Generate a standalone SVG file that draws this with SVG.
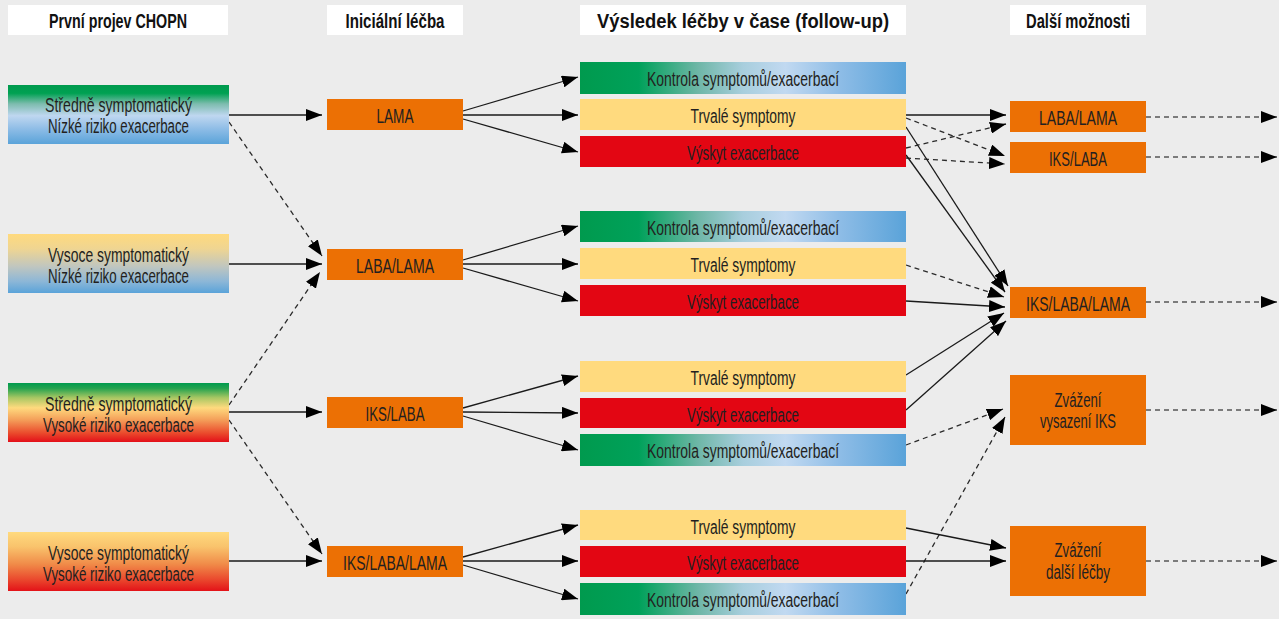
<svg xmlns="http://www.w3.org/2000/svg" width="1279" height="619" viewBox="0 0 1279 619">
<style>
.t{font-family:"Liberation Sans",Arial,sans-serif;font-size:20px;fill:#231f20;text-anchor:middle}
.h{font-family:"Liberation Sans",Arial,sans-serif;font-size:20px;font-weight:bold;fill:#111;text-anchor:middle}
.hb{fill:#fff}
.or{fill:#ec7004}
.ye{fill:#ffda7e}
.re{fill:#e30613}
.kon{fill:url(#gKon)}
.s{stroke:#1a1a1a;stroke-width:1.3;fill:none;marker-end:url(#ah)}
.d{stroke:#2a2a2a;stroke-width:1.3;fill:none;stroke-dasharray:5 4;marker-end:url(#ah)}
.dg{stroke:#555;stroke-width:1.4;fill:none;stroke-dasharray:5 4;marker-end:url(#ah)}
</style>
<defs>
<marker id="ah" viewBox="0 0 16 12" refX="16" refY="6" markerWidth="16" markerHeight="12" markerUnits="userSpaceOnUse" orient="auto">
<path d="M0,0 L16,6 L0,12 z" fill="#000"/>
</marker>
<linearGradient id="gKon" x1="0" y1="0" x2="1" y2="0">
<stop offset="0" stop-color="#009a4e"/>
<stop offset="0.18" stop-color="#00a15a"/>
<stop offset="0.36" stop-color="#6db6a6"/>
<stop offset="0.5" stop-color="#a8cedd"/>
<stop offset="0.63" stop-color="#c1d9f1"/>
<stop offset="0.8" stop-color="#8dbce6"/>
<stop offset="1" stop-color="#5aa3d9"/>
</linearGradient>
<linearGradient id="gB1" x1="0" y1="0" x2="0" y2="1">
<stop offset="0" stop-color="#009a4e"/>
<stop offset="0.14" stop-color="#00a152"/>
<stop offset="0.32" stop-color="#7dbcae"/>
<stop offset="0.52" stop-color="#bfd7f0"/>
<stop offset="0.75" stop-color="#8dbce6"/>
<stop offset="1" stop-color="#5aa3d9"/>
</linearGradient>
<linearGradient id="gB2" x1="0" y1="0" x2="0" y2="1">
<stop offset="0" stop-color="#ffda7e"/>
<stop offset="0.25" stop-color="#efd592"/>
<stop offset="0.55" stop-color="#c0c6bf"/>
<stop offset="0.8" stop-color="#8db7d7"/>
<stop offset="1" stop-color="#5aa3d9"/>
</linearGradient>
<linearGradient id="gB3" x1="0" y1="0" x2="0" y2="1">
<stop offset="0" stop-color="#009a4e"/>
<stop offset="0.09" stop-color="#23a24e"/>
<stop offset="0.25" stop-color="#a8c763"/>
<stop offset="0.42" stop-color="#ffda7e"/>
<stop offset="0.62" stop-color="#f4a05a"/>
<stop offset="0.85" stop-color="#ea4a2c"/>
<stop offset="1" stop-color="#e30f19"/>
</linearGradient>
<linearGradient id="gB4" x1="0" y1="0" x2="0" y2="1">
<stop offset="0" stop-color="#ffda7e"/>
<stop offset="0.25" stop-color="#f9c36c"/>
<stop offset="0.55" stop-color="#f08a48"/>
<stop offset="0.8" stop-color="#ea4a2e"/>
<stop offset="1" stop-color="#e31218"/>
</linearGradient>
</defs>
<rect width="1279" height="619" fill="#ececec"/>

<g id="headers">
<rect class="hb" x="8" y="5" width="220" height="30"/>
<text class="h" x="118" y="28" textLength="138" lengthAdjust="spacingAndGlyphs">První projev CHOPN</text>
<rect class="hb" x="327" y="5" width="136" height="30"/>
<text class="h" x="395" y="28" textLength="99" lengthAdjust="spacingAndGlyphs">Iniciální léčba</text>
<rect class="hb" x="580" y="5" width="326" height="30"/>
<text class="h" x="743" y="28" textLength="292" lengthAdjust="spacingAndGlyphs">Výsledek léčby v čase (follow-up)</text>
<rect class="hb" x="1010" y="5" width="136" height="30"/>
<text class="h" x="1078" y="28" textLength="104" lengthAdjust="spacingAndGlyphs">Další možnosti</text>
</g>

<g id="connectors">
<line class="s" x1="229" y1="115" x2="322" y2="115"/>
<line class="d" x1="229" y1="122" x2="322" y2="256"/>
<line class="s" x1="229" y1="264" x2="322" y2="264"/>
<line class="d" x1="229" y1="405" x2="320" y2="272"/>
<line class="s" x1="229" y1="412" x2="322" y2="412"/>
<line class="d" x1="229" y1="420" x2="322" y2="554"/>
<line class="s" x1="229" y1="561" x2="322" y2="561"/>
<line class="s" x1="463" y1="111" x2="578" y2="77"/>
<line class="s" x1="463" y1="115" x2="578" y2="115"/>
<line class="s" x1="463" y1="119" x2="578" y2="152"/>
<line class="s" x1="463" y1="260" x2="578" y2="226"/>
<line class="s" x1="463" y1="264" x2="578" y2="264"/>
<line class="s" x1="463" y1="268" x2="578" y2="301"/>
<line class="s" x1="463" y1="408" x2="578" y2="376"/>
<line class="s" x1="463" y1="412" x2="578" y2="413"/>
<line class="s" x1="463" y1="416" x2="578" y2="450"/>
<line class="s" x1="463" y1="557" x2="578" y2="525"/>
<line class="s" x1="463" y1="561" x2="578" y2="561"/>
<line class="s" x1="463" y1="565" x2="578" y2="599"/>
<line class="s" x1="906" y1="115" x2="1006" y2="115"/>
<line class="d" x1="906" y1="118" x2="1005" y2="156"/>
<line class="d" x1="906" y1="148" x2="1006" y2="124"/>
<line class="d" x1="906" y1="158" x2="1005" y2="164"/>
<line class="s" x1="906" y1="127" x2="1008" y2="286"/>
<line class="s" x1="906" y1="155" x2="1005" y2="292"/>
<line class="d" x1="906" y1="265" x2="1004" y2="297"/>
<line class="s" x1="906" y1="301" x2="1005" y2="307"/>
<line class="s" x1="906" y1="375" x2="1004" y2="313"/>
<line class="s" x1="906" y1="410" x2="1006" y2="321"/>
<line class="d" x1="906" y1="445" x2="1003" y2="409"/>
<line class="d" x1="906" y1="594" x2="1005" y2="417"/>
<line class="s" x1="906" y1="528" x2="1006" y2="548"/>
<line class="s" x1="906" y1="561" x2="1006" y2="561"/>
<line class="dg" x1="1146" y1="117" x2="1277" y2="117"/>
<line class="dg" x1="1146" y1="157" x2="1277" y2="157"/>
<line class="dg" x1="1146" y1="302" x2="1277" y2="302"/>
<line class="dg" x1="1146" y1="410" x2="1277" y2="410"/>
<line class="dg" x1="1146" y1="561" x2="1277" y2="561"/>
</g>

<g id="first1">
<rect x="8" y="85" width="221" height="59" fill="url(#gB1)"/>
<text class="t" x="118.5" y="112" textLength="147" lengthAdjust="spacingAndGlyphs">Středně symptomatický</text>
<text class="t" x="118.5" y="133" textLength="141" lengthAdjust="spacingAndGlyphs">Nízké riziko exacerbace</text>
</g>
<g id="first2">
<rect x="8" y="234" width="221" height="59" fill="url(#gB2)"/>
<text class="t" x="118.5" y="261.5" textLength="141" lengthAdjust="spacingAndGlyphs">Vysoce symptomatický</text>
<text class="t" x="118.5" y="282.5" textLength="141" lengthAdjust="spacingAndGlyphs">Nízké riziko exacerbace</text>
</g>
<g id="first3">
<rect x="8" y="383" width="221" height="59" fill="url(#gB3)"/>
<text class="t" x="118.5" y="410.5" textLength="147" lengthAdjust="spacingAndGlyphs">Středně symptomatický</text>
<text class="t" x="118.5" y="431.5" textLength="151" lengthAdjust="spacingAndGlyphs">Vysoké riziko exacerbace</text>
</g>
<g id="first4">
<rect x="8" y="532" width="221" height="59" fill="url(#gB4)"/>
<text class="t" x="118.5" y="559.5" textLength="141" lengthAdjust="spacingAndGlyphs">Vysoce symptomatický</text>
<text class="t" x="118.5" y="580.5" textLength="151" lengthAdjust="spacingAndGlyphs">Vysoké riziko exacerbace</text>
</g>

<g id="init1">
<rect class="or" x="327" y="99" width="136" height="31"/>
<text class="t" x="395" y="123" textLength="37" lengthAdjust="spacingAndGlyphs">LAMA</text>
</g>
<g id="init2">
<rect class="or" x="327" y="249" width="136" height="31"/>
<text class="t" x="395" y="273" textLength="78" lengthAdjust="spacingAndGlyphs">LABA/LAMA</text>
</g>
<g id="init3">
<rect class="or" x="327" y="397" width="136" height="31"/>
<text class="t" x="395" y="421" textLength="59" lengthAdjust="spacingAndGlyphs">IKS/LABA</text>
</g>
<g id="init4">
<rect class="or" x="327" y="546" width="136" height="31"/>
<text class="t" x="395" y="570" textLength="104" lengthAdjust="spacingAndGlyphs">IKS/LABA/LAMA</text>
</g>

<g id="out1a"><rect class="kon" x="580" y="62" width="326" height="32"/><text class="t" x="743" y="86" textLength="192" lengthAdjust="spacingAndGlyphs">Kontrola symptomů/exacerbací</text></g>
<g id="out1b"><rect class="ye" x="580" y="99" width="326" height="31"/><text class="t" x="743" y="123" textLength="105" lengthAdjust="spacingAndGlyphs">Trvalé symptomy</text></g>
<g id="out1c"><rect class="re" x="580" y="136" width="326" height="31"/><text class="t" x="743" y="160" textLength="112" lengthAdjust="spacingAndGlyphs">Výskyt exacerbace</text></g>

<g id="out2a"><rect class="kon" x="580" y="211" width="326" height="31"/><text class="t" x="743" y="235" textLength="192" lengthAdjust="spacingAndGlyphs">Kontrola symptomů/exacerbací</text></g>
<g id="out2b"><rect class="ye" x="580" y="248" width="326" height="31"/><text class="t" x="743" y="272" textLength="105" lengthAdjust="spacingAndGlyphs">Trvalé symptomy</text></g>
<g id="out2c"><rect class="re" x="580" y="285" width="326" height="31"/><text class="t" x="743" y="309" textLength="112" lengthAdjust="spacingAndGlyphs">Výskyt exacerbace</text></g>

<g id="out3a"><rect class="ye" x="580" y="361" width="326" height="31"/><text class="t" x="743" y="385" textLength="105" lengthAdjust="spacingAndGlyphs">Trvalé symptomy</text></g>
<g id="out3b"><rect class="re" x="580" y="398" width="326" height="30"/><text class="t" x="743" y="421.5" textLength="112" lengthAdjust="spacingAndGlyphs">Výskyt exacerbace</text></g>
<g id="out3c"><rect class="kon" x="580" y="434" width="326" height="32"/><text class="t" x="743" y="458" textLength="192" lengthAdjust="spacingAndGlyphs">Kontrola symptomů/exacerbací</text></g>

<g id="out4a"><rect class="ye" x="580" y="510" width="326" height="30"/><text class="t" x="743" y="533.5" textLength="105" lengthAdjust="spacingAndGlyphs">Trvalé symptomy</text></g>
<g id="out4b"><rect class="re" x="580" y="546" width="326" height="31"/><text class="t" x="743" y="570" textLength="112" lengthAdjust="spacingAndGlyphs">Výskyt exacerbace</text></g>
<g id="out4c"><rect class="kon" x="580" y="583" width="326" height="32"/><text class="t" x="743" y="607" textLength="192" lengthAdjust="spacingAndGlyphs">Kontrola symptomů/exacerbací</text></g>

<g id="opt1"><rect class="or" x="1010" y="101" width="136" height="31"/><text class="t" x="1078" y="125" textLength="78" lengthAdjust="spacingAndGlyphs">LABA/LAMA</text></g>
<g id="opt2"><rect class="or" x="1010" y="142" width="136" height="31"/><text class="t" x="1078" y="166" textLength="58" lengthAdjust="spacingAndGlyphs">IKS/LABA</text></g>
<g id="opt3"><rect class="or" x="1010" y="287" width="136" height="31"/><text class="t" x="1078" y="311" textLength="104" lengthAdjust="spacingAndGlyphs">IKS/LABA/LAMA</text></g>
<g id="opt4"><rect class="or" x="1010" y="375" width="136" height="70"/>
<text class="t" x="1078" y="406.5" textLength="47" lengthAdjust="spacingAndGlyphs">Zvážení</text>
<text class="t" x="1078" y="428" textLength="76" lengthAdjust="spacingAndGlyphs">vysazení IKS</text></g>
<g id="opt5"><rect class="or" x="1010" y="526" width="136" height="70"/>
<text class="t" x="1078" y="557" textLength="47" lengthAdjust="spacingAndGlyphs">Zvážení</text>
<text class="t" x="1078" y="579" textLength="64" lengthAdjust="spacingAndGlyphs">další léčby</text></g>
</svg>
